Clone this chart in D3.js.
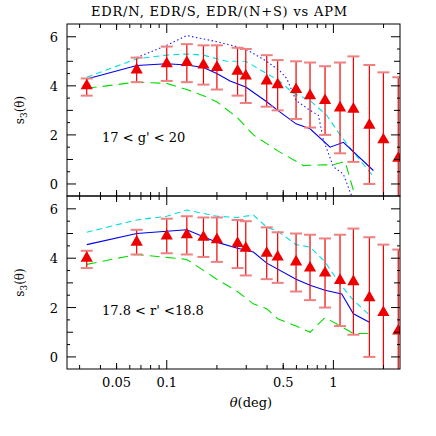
<!DOCTYPE html><html><head><meta charset="utf-8"><script src="https://cdn.jsdelivr.net/npm/d3@7"></script>
<style>body{margin:0;background:#fff}text{font-family:"DejaVu Serif",serif}</style></head><body><script>
const theta=[0.0331,0.066,0.1,0.132,0.166,0.2,0.266,0.298,0.398,0.463,0.597,0.724,0.891,1.096,1.318,1.644,1.995,2.45];
const s3=[4.0,4.65,4.9,4.95,4.85,4.75,4.6,4.4,4.2,4.05,3.85,3.6,3.4,3.1,3.05,2.4,1.8,1.05];
const errHi=[4.3,5.15,5.6,5.7,5.65,5.65,5.55,5.5,5.25,5.05,5.0,4.95,4.8,4.95,5.2,4.85,4.55,4.35];
const errLo=[3.6,4.15,4.2,4.15,4.05,3.85,3.6,3.3,3.15,3.0,2.65,2.3,2.0,1.25,0.9,0.0,-0.6,-0.6];
const zx=z=>Math.pow(10,-1+(z-380)/500);
const topBlue=[[140,4.28],[290,4.83],[380,4.9],[440,4.85],[490,4.75],[530,4.5],[570,4.2],[617,3.95],[680,3.35],[713,3.0],[768,2.45],[810,2.25],[870,1.5],[910,1.7],[1000,0.55]];
const topCyan=[[140,4.35],[290,5.1],[380,5.25],[440,5.3],[490,5.25],[560,5.0],[617,5.0],[680,4.5],[713,4.25],[760,3.7],[810,3.4],[860,2.8],[900,2.0],[940,1.3],[1000,0.3]];
const topDot=[[290,5.15],[380,5.65],[440,6.05],[530,5.8],[617,5.5],[680,5.0],[720,4.6],[740,4.3],[768,3.4],[810,3.0],[835,2.8],[850,1.8],[880,0.7],[910,0.4],[935,-0.5]];
const topGreen=[[140,3.9],[290,4.15],[380,4.1],[440,3.85],[490,3.6],[530,3.35],[592,2.7],[640,2.0],[713,1.35],[790,0.75],[850,0.78],[880,0.78],[915,0.92],[945,-0.5]];
const botBlue=[[140,4.55],[290,5.0],[440,5.15],[530,4.65],[592,4.4],[640,4.25],[680,3.8],[768,3.15],[810,2.9],[855,2.7],[905,2.55],[940,1.75],[988,1.4]];
const botCyan=[[140,5.05],[290,5.55],[380,5.7],[440,5.95],[530,5.7],[592,5.65],[640,5.75],[680,5.25],[713,5.1],[768,4.55],[810,4.45],[855,3.85],[900,2.95],[940,2.3],[988,1.7]];
const botGreen=[[140,3.75],[290,4.15],[440,3.95],[530,3.15],[592,2.65],[640,2.15],[680,1.95],[713,1.55],[768,1.25],[810,1.0],[855,1.6],[940,0.95],[988,0.95]];
const xTickLabels=[0.05,0.1,0.5,1];
const yTickLabels=[0,2,4,6];
const panels=[{y0:24,y1:196,label:"17 < g' < 20",curves:[[topGreen,"#00dd00","10,6"],[topCyan,"#00e0e0","6,4"],[topDot,"#2020ff","1.5,2.5"],[topBlue,"#0000ee",null]]},
{y0:196,y1:369,label:"17.8 < r' <18.8",curves:[[botGreen,"#00dd00","10,6"],[botCyan,"#00e0e0","6,4"],[botBlue,"#0000ee",null]]}];
const W=436,H=436,L=67,R=400;
const svg=d3.select("body").append("svg").attr("width",W).attr("height",H);
const x=d3.scaleLog().domain([0.0252,2.51]).range([L,R]);
svg.append("text").attr("x",219).attr("y",16).attr("text-anchor","middle").attr("font-size",13).attr("textLength",256).text("EDR/N, EDR/S, EDR/(N+S) vs APM");
const minors=[];for(let d of [0.01,0.1,1])for(let k=1;k<10;k++){const v=d*k;if(v>=0.0252&&v<=2.51)minors.push(v);}
panels.forEach(p=>{
 const y=d3.scaleLinear().domain([-0.49,6.52]).range([p.y1,p.y0]);
 const g=svg.append("g");
 const clip="c"+p.y0;
 svg.append("clipPath").attr("id",clip).append("rect").attr("x",L).attr("y",p.y0).attr("width",R-L).attr("height",p.y1-p.y0);
 const pg=g.append("g").attr("clip-path",`url(#${clip})`);
 const line=d3.line().x(d=>x(zx(d[0]))).y(d=>y(d[1]));
 p.curves.forEach(([data,c,dash])=>pg.append("path").attr("d",line(data)).attr("fill","none").attr("stroke",c).attr("stroke-width",1.1).attr("stroke-dasharray",dash));
 theta.forEach((t,i)=>{
  const cx=x(t);
  pg.append("line").attr("x1",cx).attr("x2",cx).attr("y1",y(errHi[i])).attr("y2",y(errLo[i])).attr("stroke","#ee0000").attr("stroke-width",1.2);
  [errHi[i],errLo[i]].forEach(v=>pg.append("line").attr("x1",cx-6).attr("x2",cx+6).attr("y1",y(v)).attr("y2",y(v)).attr("stroke","#f08080").attr("stroke-width",2));
  pg.append("path").attr("d",d3.symbol(d3.symbolTriangle,65)()).attr("transform",`translate(${cx},${y(s3[i])})`).attr("fill","#ee0000");
 });
 g.append("rect").attr("x",L).attr("y",p.y0).attr("width",R-L).attr("height",p.y1-p.y0).attr("fill","none").attr("stroke","#000");
 minors.forEach(v=>{const len=(v===0.1||v===1)?9:4;
  g.append("line").attr("x1",x(v)).attr("x2",x(v)).attr("y1",p.y1).attr("y2",p.y1-len).attr("stroke","#000");
  g.append("line").attr("x1",x(v)).attr("x2",x(v)).attr("y1",p.y0).attr("y2",p.y0+len).attr("stroke","#000");});
 [0.05,0.5].forEach(v=>{g.append("line").attr("x1",x(v)).attr("x2",x(v)).attr("y1",p.y1).attr("y2",p.y1-6).attr("stroke","#000");g.append("line").attr("x1",x(v)).attr("x2",x(v)).attr("y1",p.y0).attr("y2",p.y0+6).attr("stroke","#000");});
 for(let v=0;v<=6;v+=0.5){const len=v%2===0?9:v%1===0?6:3;
  g.append("line").attr("x1",L).attr("x2",L+len).attr("y1",y(v)).attr("y2",y(v)).attr("stroke","#000");
  g.append("line").attr("x1",R).attr("x2",R-len).attr("y1",y(v)).attr("y2",y(v)).attr("stroke","#000");}
 yTickLabels.forEach(v=>g.append("text").attr("x",L-9).attr("y",y(v)+5).attr("text-anchor","end").attr("font-size",13).text(v));
 g.append("text").attr("x",102).attr("y",y(1.7)).attr("font-size",13).attr("xml:space","preserve").text(p.label);
 const ym=(p.y0+p.y1)/2;
 const t=g.append("text").attr("transform",`translate(24,${ym}) rotate(-90)`).attr("text-anchor","middle").attr("font-size",12);
 t.append("tspan").text("s");t.append("tspan").attr("font-size",9).attr("dy",3).text("3");t.append("tspan").attr("dy",-3).text("(θ)");
});
xTickLabels.forEach(v=>svg.append("text").attr("x",x(v)).attr("y",387).attr("text-anchor","middle").attr("font-size",13).text(v));
svg.append("text").attr("x",x(0.32)).attr("y",407).attr("text-anchor","middle").attr("font-size",13).html("<tspan font-style='italic'>θ</tspan>(deg)");
</script></body></html>
